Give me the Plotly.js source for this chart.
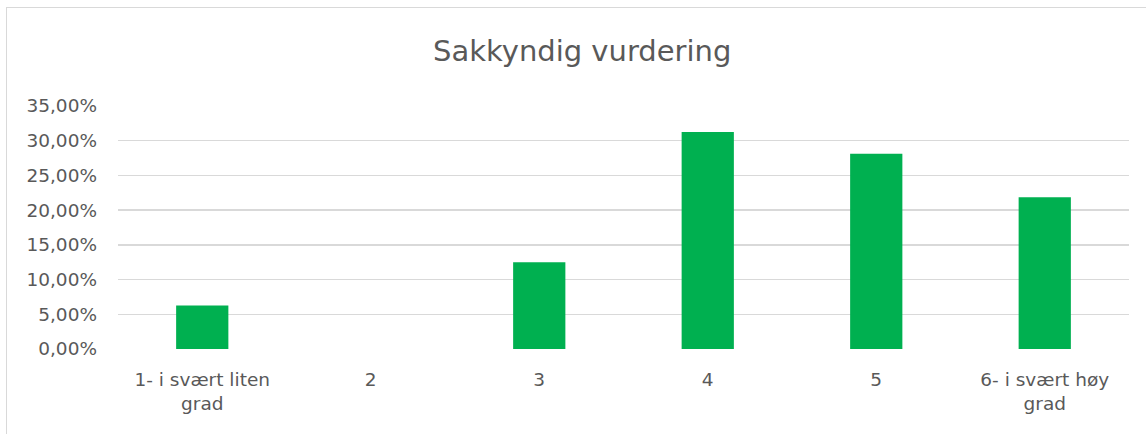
<!DOCTYPE html>
<html>
<head>
<meta charset="utf-8">
<script src="https://cdn.plot.ly/plotly-3.0.1.min.js"></script>
<style>
html,body{margin:0;padding:0;background:#fff;overflow:hidden;}
#frame{position:absolute;left:6px;top:7px;width:1200px;height:500px;border-left:1px solid #d9d9d9;border-top:1px solid #d9d9d9;pointer-events:none;z-index:5;}
#chart{position:absolute;left:0;top:0;width:1146px;height:434px;}
</style>
</head>
<body>
<div id="chart"></div>
<div id="frame"></div>
<script>
const categories = ["1- i svært liten<br>grad", "2", "3", "4", "5", "6- i svært høy<br>grad"];
const shares = [0.0625, 0, 0.125, 0.3125, 0.28125, 0.21875];
const yTicks = [0, 0.05, 0.10, 0.15, 0.20, 0.25, 0.30, 0.35];

const FONT = "DejaVu Sans, sans-serif";
const TXT = "#595959";

Plotly.newPlot("chart", [{
  type: "bar",
  x: categories,
  y: shares,
  marker: {color: "#00b050"},
  hoverinfo: "none"
}], {
  width: 1146,
  height: 434,
  paper_bgcolor: "#ffffff",
  plot_bgcolor: "#ffffff",
  separators: ", ",
  margin: {l: 118, r: 17, t: 106, b: 85},
  bargap: 0.69,
  showlegend: false,
  title: {
    text: "Sakkyndig vurdering",
    font: {family: FONT, size: 29, color: TXT},
    xref: "container", x: 0.508, xanchor: "center",
    yref: "container", y: 0.882, yanchor: "middle"
  },
  xaxis: {
    type: "category",
    tickfont: {family: FONT, size: 18.5, color: TXT},
    showgrid: false, zeroline: false, showline: false,
    ticks: "", ticklabelstandoff: 17
  },
  yaxis: {
    range: [0, 0.35],
    tickvals: yTicks,
    tickformat: ".2%",
    tickfont: {family: FONT, size: 18.5, color: TXT},
    gridcolor: "#d9d9d9", gridwidth: 1.5,
    zeroline: false, showline: false, ticks: "",
    ticklabelstandoff: 20
  }
}, {staticPlot: true, displayModeBar: false});
</script>
</body>
</html>
